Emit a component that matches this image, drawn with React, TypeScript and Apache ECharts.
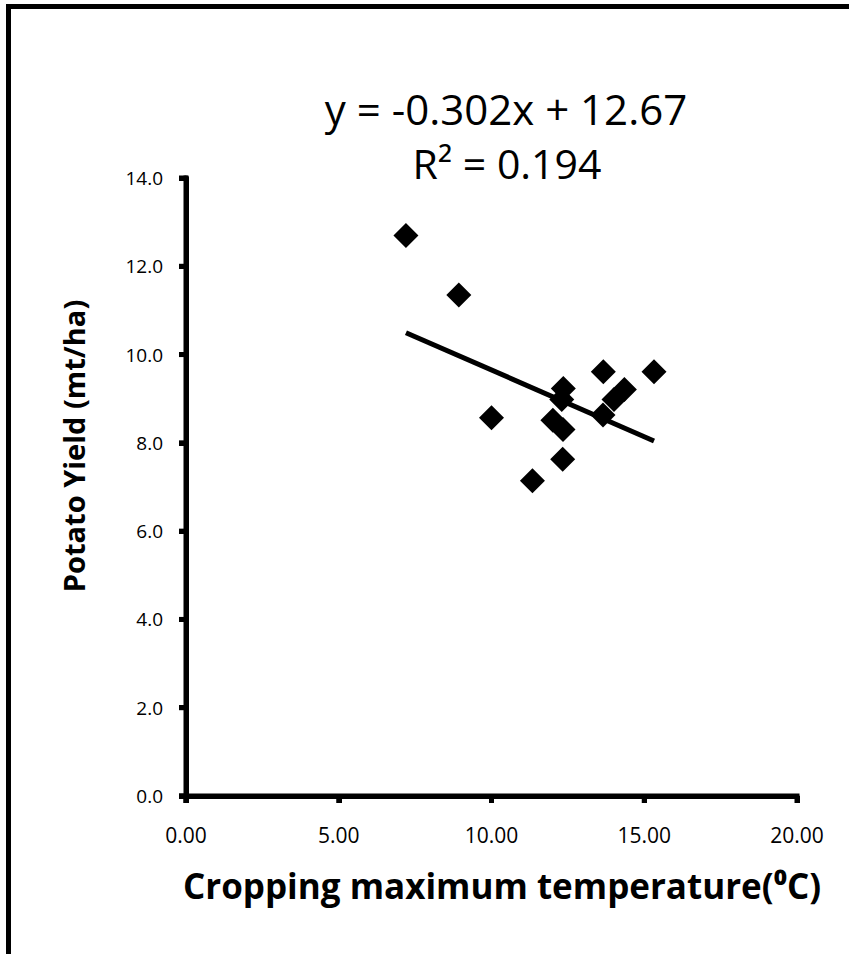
import React, { useEffect, useRef } from "react";
import * as echarts from "echarts";

const tempX = [7.2, 8.93, 10.0, 11.34, 12.33, 12.01, 12.34, 12.35, 12.3, 13.66, 13.65, 14.01, 14.35, 15.32];
const yieldY = [12.7, 11.35, 8.57, 7.14, 7.63, 8.51, 8.3, 9.23, 8.98, 9.61, 8.63, 8.98, 9.21, 9.61];
const xTicks = [0, 5, 10, 15, 20];
const yTicks = [0, 2, 4, 6, 8, 10, 12, 14];
const trendSlope = -0.302;
const trendIntercept = 12.67;
const equationText = "y = -0.302x + 12.67";
const r2Text = "R² = 0.194";
const xTitle = "Cropping maximum temperature(⁰C)";
const yTitle = "Potato Yield (mt/ha)";

const FONT = "'Open Sans', 'Noto Sans', sans-serif";

export default function App() {
  const ref = useRef<HTMLDivElement>(null);
  useEffect(() => {
    if (!ref.current) return;
    const chart = echarts.init(ref.current, null, { renderer: "svg" });
    const points = tempX.map((x, i) => [x, yieldY[i]]);
    const xMin = Math.min(...tempX);
    const xMax = Math.max(...tempX);
    const trend = [
      [xMin, trendSlope * xMin + trendIntercept],
      [xMax, trendSlope * xMax + trendIntercept],
    ];
    const axisStyle = { color: "#000", width: 5 };
    chart.setOption({
      animation: false,
      backgroundColor: "#ffffff",
      grid: { left: 186, right: 52, top: 178, bottom: 158 },
      xAxis: {
        type: "value",
        min: xTicks[0],
        max: xTicks[xTicks.length - 1],
        interval: 5,
        splitLine: { show: false },
        axisLine: { show: true, onZero: false, lineStyle: axisStyle },
        axisTick: { show: true, length: 7, lineStyle: axisStyle },
        axisLabel: {
          margin: 28,
          color: "#000",
          fontSize: 21,
          fontFamily: FONT,
          formatter: (v: number) => v.toFixed(2),
        },
      },
      yAxis: {
        type: "value",
        min: yTicks[0],
        max: yTicks[yTicks.length - 1],
        interval: 2,
        splitLine: { show: false },
        axisLine: { show: true, onZero: false, lineStyle: axisStyle },
        axisTick: { show: true, length: 7, lineStyle: axisStyle },
        axisLabel: {
          margin: 23,
          color: "#000",
          fontSize: 19,
          fontFamily: FONT,
          formatter: (v: number) => v.toFixed(1),
        },
      },
      series: [
        {
          type: "scatter",
          data: points,
          symbol: "diamond",
          symbolSize: 25,
          itemStyle: { color: "#000", opacity: 1 },
          z: 3,
        },
        {
          type: "line",
          data: trend,
          showSymbol: false,
          symbol: "none",
          lineStyle: { color: "#000", width: 5 },
          z: 2,
        },
      ],
    });

    // thick axis lines and ticks, placed through the chart's own scales
    const px = (v: number[]) => chart.convertToPixel({ gridIndex: 0 }, v) as number[];
    const o = px([xTicks[0], yTicks[0]]);
    const xEnd = px([xTicks[xTicks.length - 1], yTicks[0]]);
    const yEnd = px([xTicks[0], yTicks[yTicks.length - 1]]);
    const st = { stroke: "#000", lineWidth: 5, lineCap: "butt" };
    const elements: any[] = [
      {
        type: "rect",
        shape: { x: 8.5, y: 6.5, width: 900, height: 1000 },
        style: { fill: "none", stroke: "#000", lineWidth: 5 },
        silent: true,
      },
      {
        type: "text",
        x: 506,
        y: 108,
        style: { text: equationText, fill: "#000", font: `42px ${FONT}`, textAlign: "center", textVerticalAlign: "middle" },
      },
      {
        type: "text",
        x: 507,
        y: 163,
        style: { text: r2Text, fill: "#000", font: `41px ${FONT}`, textAlign: "center", textVerticalAlign: "middle" },
      },
      {
        type: "text",
        x: 73,
        y: 446,
        rotation: Math.PI / 2,
        style: { text: yTitle, fill: "#000", font: `bold 29px ${FONT}`, textAlign: "center", textVerticalAlign: "middle" },
      },
      {
        type: "text",
        x: 502,
        y: 885,
        style: { text: xTitle, fill: "#000", font: `bold 35px ${FONT}`, textAlign: "center", textVerticalAlign: "middle" },
      },
      { type: "line", shape: { x1: o[0] - 7, y1: o[1], x2: xEnd[0] + 2.5, y2: o[1] }, style: st, z: 10 },
      { type: "line", shape: { x1: o[0], y1: o[1] + 7, x2: o[0], y2: yEnd[1] - 2.5 }, style: st, z: 10 },
    ];
    xTicks.forEach((t) => {
      const p = px([t, yTicks[0]]);
      elements.push({ type: "line", shape: { x1: p[0], y1: o[1], x2: p[0], y2: o[1] + 7 }, style: st, z: 10 });
    });
    yTicks.forEach((t) => {
      const p = px([xTicks[0], t]);
      elements.push({ type: "line", shape: { x1: o[0] - 7, y1: p[1], x2: o[0], y2: p[1] }, style: st, z: 10 });
    });
    chart.setOption({ graphic: elements }, { replaceMerge: ["graphic"] });
    return () => chart.dispose();
  }, []);
  return <div ref={ref} style={{ position: "fixed", left: 0, top: 0, width: 849, height: 954 }} />;
}
